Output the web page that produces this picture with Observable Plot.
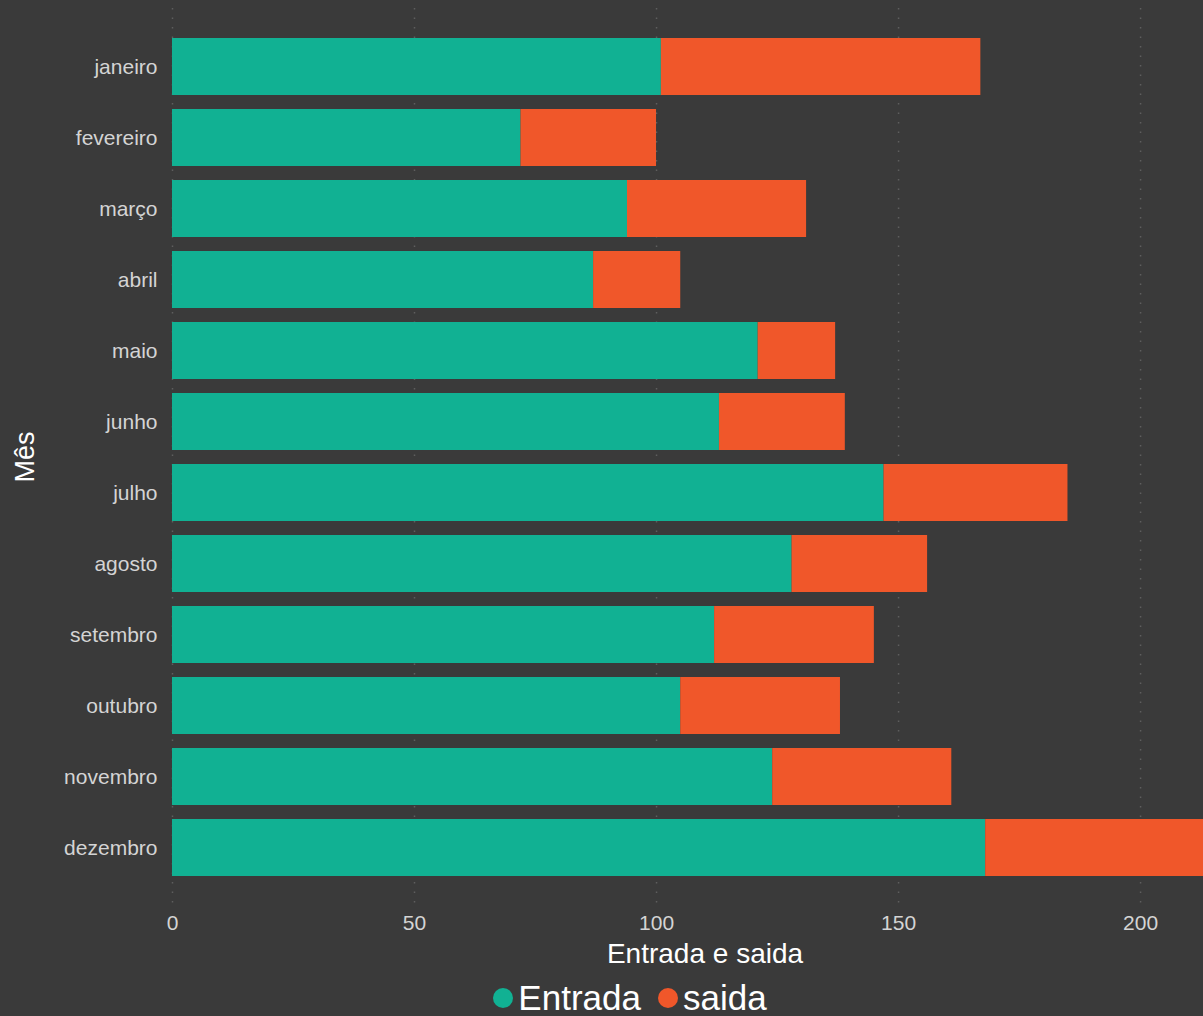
<!DOCTYPE html>
<html>
<head>
<meta charset="utf-8">
<script src="https://cdn.jsdelivr.net/npm/d3@7"></script>
<script src="https://cdn.jsdelivr.net/npm/@observablehq/plot@0.6"></script>
<style>
  html, body { margin: 0; padding: 0; background: #3a3a3a; }
  body { width: 1203px; height: 1016px; overflow: hidden; font-family: "Liberation Sans", Arial, sans-serif; }
  #chart svg { display: block; background: #3a3a3a; }
  #legend { height: 41px; display: flex; justify-content: center; align-items: center; gap: 17px; color: #ffffff; font-size: 35px; padding-left: 57px; padding-top: 4px; box-sizing: border-box; line-height: 37px; }
  .item { display: flex; align-items: center; gap: 5px; }
  .dot { width: 20px; height: 20px; border-radius: 50%; display: inline-block; }
</style>
</head>
<body>
<div id="chart"></div>
<div id="legend"></div>
<script>
const months = ["janeiro","fevereiro","março","abril","maio","junho","julho","agosto","setembro","outubro","novembro","dezembro"];
const entrada = [101, 72, 94, 87, 121, 113, 147, 128, 112, 105, 124, 168];
const saida   = [66, 28, 37, 18, 16, 26, 38, 28, 33, 33, 37, 50];
const seriesNames = ["Entrada", "saida"];
const seriesColors = ["#11b193", "#f0572a"];
const xTicks = [0, 50, 100, 150, 200];

const rows = [];
months.forEach((m, i) => {
  rows.push({mes: m, tipo: seriesNames[0], valor: entrada[i]});
  rows.push({mes: m, tipo: seriesNames[1], valor: saida[i]});
});

const chart = Plot.plot({
  width: 1203,
  height: 975,
  marginLeft: 172,
  marginRight: 0,
  marginTop: 8,
  marginBottom: 70,
  style: {background: "#3a3a3a", fontFamily: "Liberation Sans, Arial, sans-serif"},
  x: {domain: [0, 213], ticks: xTicks, tickSize: 0, tickPadding: 12, label: null},
  y: {domain: months, paddingInner: 0.2, paddingOuter: 0.4, tickSize: 0, tickPadding: 15, label: null},
  color: {domain: seriesNames, range: seriesColors},
  marks: [
    Plot.ruleX(xTicks, {stroke: "#5e5e5e", strokeWidth: 1.5, strokeDasharray: "1.5,8"}),
    Plot.barX(rows, {y: "mes", x: "valor", fill: "tipo", clip: true}),
    Plot.axisX({ticks: xTicks, tickSize: 0, tickPadding: 10, fontSize: 21, color: "#d4d4d4", label: null}),
    Plot.axisY({tickSize: 0, tickPadding: 15, fontSize: 21, color: "#d4d4d4", label: null}),
    Plot.text(["Entrada e saida"], {frameAnchor: "bottom", dx: 17, dy: 57, fontSize: 28, fill: "#ffffff", text: d => d}),
    Plot.text(["Mês"], {frameAnchor: "left", dx: -147, rotate: -90, textAnchor: "middle", fontSize: 27, fill: "#ffffff", text: d => d})
  ]
});
document.getElementById("chart").appendChild(chart);

const legend = document.getElementById("legend");
seriesNames.forEach((n, i) => {
  const item = document.createElement("span");
  item.className = "item";
  const dot = document.createElement("span");
  dot.className = "dot";
  dot.style.background = seriesColors[i];
  const label = document.createElement("span");
  label.textContent = n;
  item.appendChild(dot);
  item.appendChild(label);
  legend.appendChild(item);
});
</script>
</body>
</html>
